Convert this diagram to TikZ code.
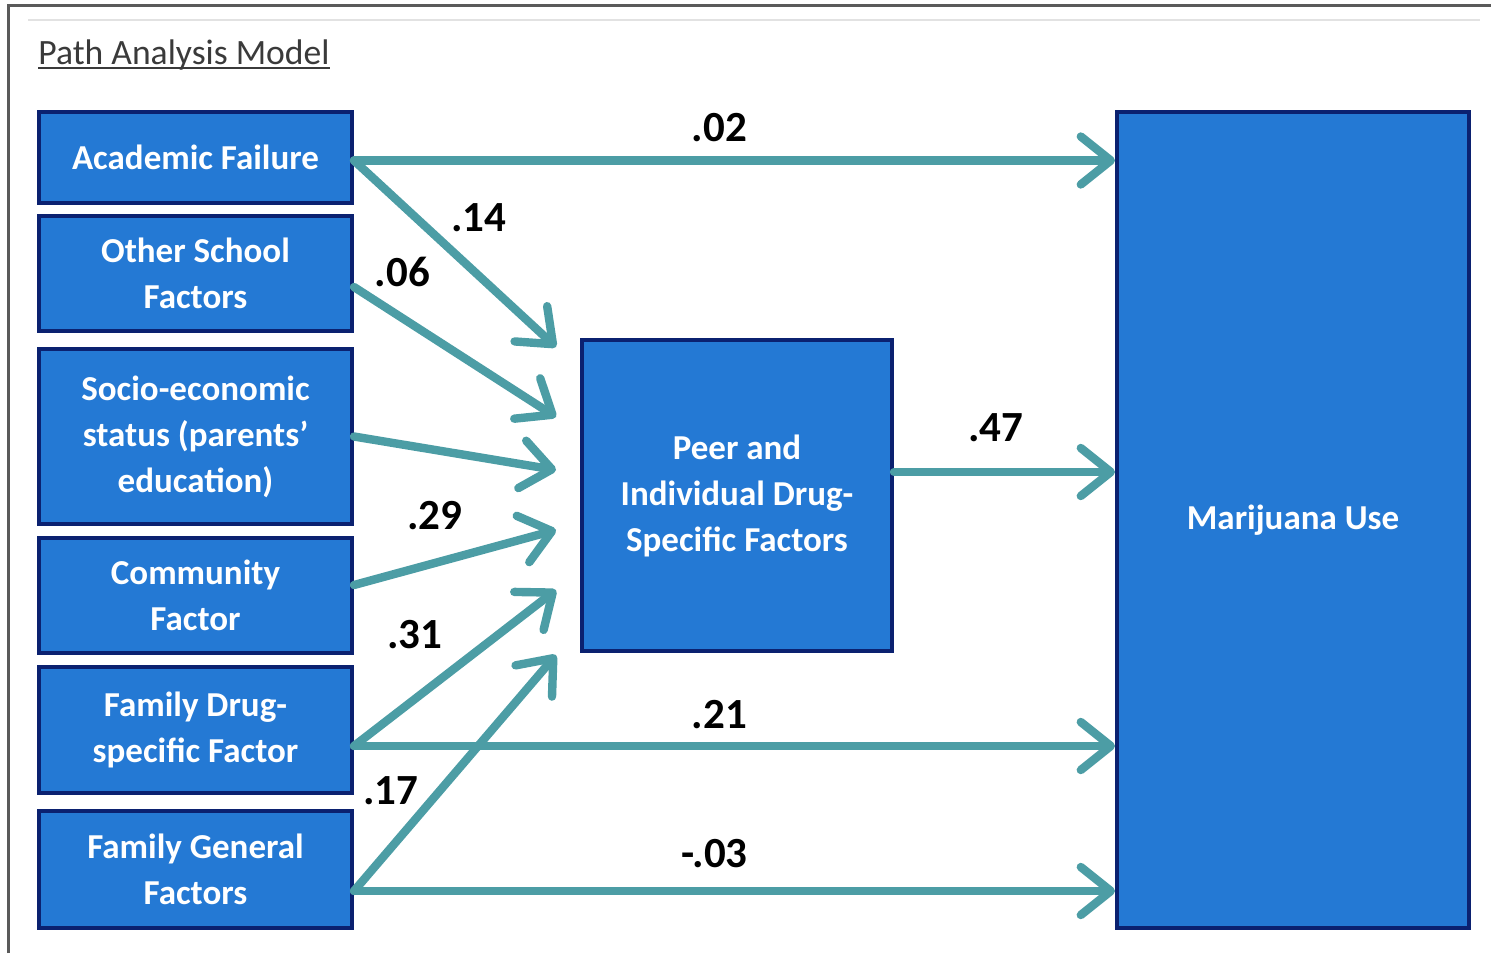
\documentclass[tikz,border=0pt]{standalone}
\usepackage{fontspec}
\setmainfont{Carlito}
\usepackage{tikz}
\usetikzlibrary{arrows.meta,calc}
\definecolor{boxblue}{HTML}{2479D4}
\definecolor{boxline}{HTML}{0B2170}
\definecolor{pathteal}{HTML}{4C9DA5}
\definecolor{framegray}{HTML}{5A5A5A}
\definecolor{rulegray}{HTML}{E2E2E2}
\definecolor{titlegray}{HTML}{3A3A3A}
\tikzset{
    factor/.style={draw=boxline, fill=boxblue, line width=2pt, text=white, align=center, font=\fontsize{17.5}{23}\selectfont\bfseries, inner sep=4pt},
    effect/.style={-{Straight Barb[length=15pt, width=24pt, round]}, line width=4.2pt, pathteal, line cap=round},
    coef/.style={font=\fontsize{21.5}{25}\selectfont\bfseries, text=black, inner sep=1pt}
}

\begin{document}
\begin{tikzpicture}[x=0.5pt, y=-0.5pt]
  \useasboundingbox (0,0) rectangle (1491,953);

  % Frame and title
  \draw[framegray, line width=1.5pt] (8,953) -- (8,5) -- (1491,5);
  \draw[rulegray, line width=1pt] (28,20) -- (1480,20);
  \node[anchor=base west, inner sep=0pt, text=titlegray, font=\fontsize{17.8}{21}\selectfont] (title) at (38,64) {Path Analysis Model};
  \draw[titlegray, line width=1.1pt] ([yshift=-2pt]title.base west) -- ([yshift=-2pt]title.base east);

  % Predictors (left column)
  \node[factor, minimum width=156.5pt, minimum height=45.5pt] (af) at (195.5,157.5) {Academic Failure};
  \node[factor, minimum width=156.5pt, minimum height=57.5pt] (osf) at (195.5,273.5) {Other School\\Factors};
  \node[factor, minimum width=156.5pt, minimum height=87.5pt] (ses) at (195.5,436.5) {Socio-economic\\status (parents’\\education)};
  \node[factor, minimum width=156.5pt, minimum height=57.5pt] (comm) at (195.5,595.5) {Community\\Factor};
  \node[factor, minimum width=156.5pt, minimum height=63pt] (fds) at (195.5,730) {Family Drug-\\specific Factor};
  \node[factor, minimum width=156.5pt, minimum height=58.5pt] (fgf) at (195.5,869.5) {Family General\\Factors};

  % Mediator and outcome
  \node[factor, minimum width=155pt, minimum height=155.5pt] (peer) at (737,495.5) {Peer and\\Individual Drug-\\Specific Factors};
  \node[factor, minimum width=176pt, minimum height=408pt] (mu) at (1293,520) {Marijuana Use};

  % Arrow ends
  \coordinate (af_out) at ([yshift=-1.5pt]af.east);
  \coordinate (osf_out) at ([yshift=-6.75pt]osf.east);
  \coordinate (comm_out) at ([yshift=5.25pt]comm.east);
  \coordinate (fds_out) at ([yshift=-8pt]fds.east);
  \coordinate (fgf_out) at ([yshift=-10.75pt]fgf.east);
  \coordinate (peer_out) at ([yshift=11.75pt]peer.east);
  \coordinate (in_af) at ([xshift=-12pt, yshift=74.25pt]peer.west);
  \coordinate (in_osf) at ([xshift=-12pt, yshift=39.25pt]peer.west);
  \coordinate (in_ses) at ([xshift=-12pt, yshift=12.75pt]peer.west);
  \coordinate (in_comm) at ([xshift=-12pt, yshift=-17.25pt]peer.west);
  \coordinate (in_fds) at ([xshift=-12pt, yshift=-47.25pt]peer.west);
  \coordinate (in_fgf) at ([xshift=-12pt, yshift=-79.75pt]peer.west);

  % Paths into the mediator
  \draw[effect] (af_out) -- node[coef, pos=.5, xshift=12pt, yshift=18pt] {.14} (in_af);
  \draw[effect] (osf_out) -- node[coef, pos=.2, xshift=4pt, yshift=20.5pt] {.06} (in_osf);
  \draw[effect] (ses.east) -- (in_ses);
  \draw[effect] (comm_out) -- node[coef, pos=.4, yshift=23.5pt] {.29} (in_comm);
  \draw[effect] (fds_out) -- node[coef, pos=.3, yshift=32.5pt] {.31} (in_fds);
  \draw[effect] (fgf_out) -- node[coef, pos=.3, xshift=-12pt, yshift=15pt] {.17} (in_fgf);

  % Paths into the outcome
  \draw[effect] (af_out) -- node[coef, pos=.48, yshift=16.5pt] {.02} (af_out -| mu.west);
  \draw[effect] (peer_out) -- node[coef, pos=.46, yshift=22pt] {.47} (peer_out -| mu.west);
  \draw[effect] (fds_out) -- node[coef, pos=.48, yshift=15.5pt] {.21} (fds_out -| mu.west);
  \draw[effect] (fgf_out) -- node[coef, pos=.474, yshift=18.5pt] {-.03} (fgf_out -| mu.west);
\end{tikzpicture}
\end{document}
